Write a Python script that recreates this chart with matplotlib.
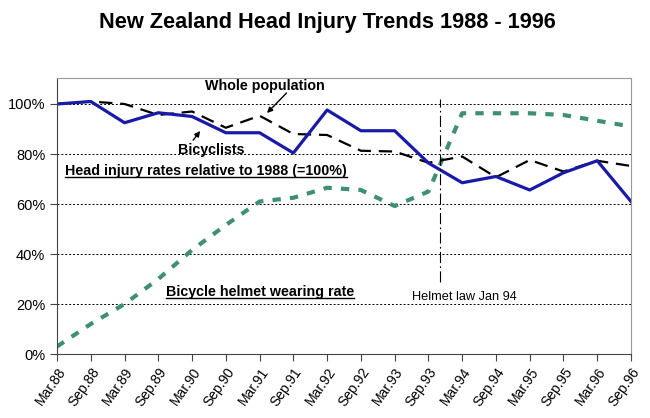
import matplotlib
matplotlib.use('Agg')
import matplotlib.pyplot as plt
from matplotlib.lines import Line2D

plt.rcParams['font.family'] = ['Liberation Sans', 'DejaVu Sans']

periods = ['Mar.88', 'Sep.88', 'Mar.89', 'Sep.89', 'Mar.90', 'Sep.90',
           'Mar.91', 'Sep.91', 'Mar.92', 'Sep.92', 'Mar.93', 'Sep.93',
           'Mar.94', 'Sep.94', 'Mar.95', 'Sep.95', 'Mar.96', 'Sep.96']

# valeurs en % relatif a 1988
bicyclists = [100, 101, 92.5, 96.5, 95, 88.5, 88.5, 80.4, 97.6, 89.3, 89.3, 76.4,
              68.5, 71, 65.6, 72.5, 77.3, 61]
whole_population = [100, 101, 100, 95.6, 97, 90.5, 95.3, 88, 87.6, 81.3, 81, 76.5,
                    79, 70.7, 77.6, 73, 77.3, 75.2]
helmet_rate = [3, 12, 20, 30, 41.6, 51.6, 61, 62.5, 66.5, 65.6, 59.2, 65,
               96.3, 96.3, 96.3, 95.6, 93.3, 91]

law_pos = 11.33  # Jan 94, entre Sep.93 et Mar.94

fig = plt.figure(figsize=(6.5, 4.18), dpi=100)
ax = fig.add_axes([0.0877, 0.1531, 0.8831, 0.6603])

x = range(len(periods))
ax.plot(x, helmet_rate, color='#3f8f77', linewidth=3, dashes=(2, 2.2))
ax.plot(x, whole_population, color='black', linewidth=1.6, dashes=(6, 3.5))
ax.plot(x, bicyclists, color='#1a1aa8', linewidth=2.3)

ax.plot([law_pos, law_pos], [29, 102], color='black', linewidth=0.8,
        dashes=(10, 3, 1.5, 3))

ax.set_xlim(0, len(periods) - 1)
ax.set_ylim(0, 110.4)
ax.set_xticks(list(x))
ax.set_xticklabels(periods, rotation=55, ha='right', rotation_mode='anchor', fontsize=10)
ax.set_yticks([0, 20, 40, 60, 80, 100])
ax.set_yticklabels(['0%', '20%', '40%', '60%', '80%', '100%'], fontsize=10.5)
ax.tick_params(axis='both', direction='out', length=5, color='#444444')
ax.tick_params(axis='x', pad=3)
ax.grid(axis='y', color='black', linestyle=(0, (2, 2)), linewidth=0.7)
for s in ['top', 'right']:
    ax.spines[s].set_color('#999999')
for s in ['left', 'bottom']:
    ax.spines[s].set_color('#444444')

fig.text(0.503, 0.945, 'New Zealand Head Injury Trends 1988 - 1996',
         ha='center', va='center', fontsize=15.7, fontweight='bold')

ax.annotate('Whole population', xy=(6.22, 96.4), xytext=(6.16, 107.2),
            ha='center', va='center', fontsize=10.3, fontweight='bold',
            annotation_clip=False,
            arrowprops=dict(arrowstyle='-|>', color='black', lw=1,
                            mutation_scale=8, shrinkA=0, shrinkB=0,
                            patchA=None, relpos=(0.68, 0)))
ax.annotate('Bicyclists', xy=(4.24, 89.2), xytext=(4.56, 81.6),
            ha='center', va='center', fontsize=10.3, fontweight='bold',
            arrowprops=dict(arrowstyle='-|>', color='black', lw=1,
                            mutation_scale=8, shrinkA=0, shrinkB=0,
                            relpos=(0.2, 1)))

t1 = ax.text(0.24, 73.2, 'Head injury rates relative to 1988 (=100%)',
             ha='left', va='center', fontsize=10.3, fontweight='bold')
t2 = ax.text(3.23, 24.8, 'Bicycle helmet wearing rate',
             ha='left', va='center', fontsize=10.3, fontweight='bold')
ax.text(10.5, 22.8, 'Helmet law Jan 94', ha='left', va='center', fontsize=9.2)

# soulignement des deux titres internes
fig.canvas.draw()
for t in [t1, t2]:
    bb = t.get_window_extent().transformed(fig.transFigure.inverted())
    fig.add_artist(Line2D([bb.x0, bb.x1], [bb.y0 + 0.003, bb.y0 + 0.003],
                          color='black', linewidth=1))

fig.savefig('out.png', dpi=100)
